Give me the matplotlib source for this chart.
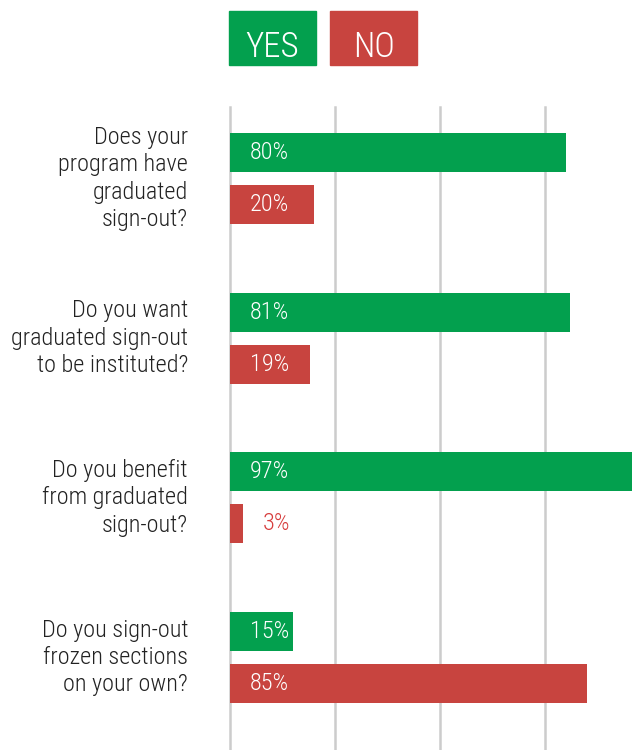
import matplotlib
matplotlib.use("Agg")
import matplotlib.pyplot as plt
from matplotlib.patches import Rectangle

plt.rcParams["font.family"] = ["Roboto Condensed", "Roboto", "DejaVu Sans"]
plt.rcParams["font.weight"] = 300

questions = [
    "Does your\nprogram have\ngraduated\nsign-out?",
    "Do you want\ngraduated sign-out\nto be instituted?",
    "Do you benefit\nfrom graduated\nsign-out?",
    "Do you sign-out\nfrozen sections\non your own?",
]
yes_pct = [80, 81, 97, 15]
no_pct = [20, 19, 3, 85]

GREEN = "#03A04E"
RED = "#C8443F"
TEXT = "#222222"
FS = 17.5

W, H = 632, 750
fig = plt.figure(figsize=(W / 100, H / 100), dpi=100)

# plot area: from the 0% line to the right edge, 25% = 105 px
ax = fig.add_axes([230 / W, 0, (W - 230) / W, (H - 107) / H])
ax.set_xlim(0, (W - 230) / 4.2)
group_gap = 159.7
ax.set_ylim(-0.448 + (H - 107) / group_gap, -0.448)
ax.axis("off")

for gx in [0, 25, 50, 75]:
    ax.axvline(gx, color="#CCCCCC", lw=1.8, zorder=0, clip_on=False)

bar_h = 39 / group_gap
off = 26 / group_gap
pos = list(range(len(questions)))
ax.barh([p - off for p in pos], yes_pct, height=bar_h, color=GREEN, zorder=2)
ax.barh([p + off for p in pos], no_pct, height=bar_h, color=RED, zorder=2)

label_x = 20 / 4.2
for p, v in zip(pos, yes_pct):
    ax.text(label_x, p - off, f"{v}%", color="white", fontsize=FS,
            va="center", ha="left", zorder=3)
for p, v in zip(pos, no_pct):
    if v < 10:
        # too short for the label, put it after the bar
        ax.text(v + 20 / 4.2, p + off, f"{v}%", color="#D63C3C", fontsize=FS,
                va="center", ha="left", zorder=3)
    else:
        ax.text(label_x, p + off, f"{v}%", color="white", fontsize=FS,
                va="center", ha="left", zorder=3)

for p, q in zip(pos, questions):
    ax.text(-42 / 4.2, p, q, color=TEXT, fontsize=FS, ha="right", va="center",
            linespacing=1.24, clip_on=False)

# legend boxes
for x0, label, col in [(229, "YES", GREEN), (330, "NO", RED)]:
    fig.patches.append(Rectangle((x0 / W, 1 - 65 / H), 87 / W, 54 / H,
                                 transform=fig.transFigure, color=col))
    fig.text((x0 + 43.5) / W, 1 - 57 / H, label, color="white", fontsize=25,
             ha="center", va="baseline")

fig.savefig("out.png", dpi=100)
